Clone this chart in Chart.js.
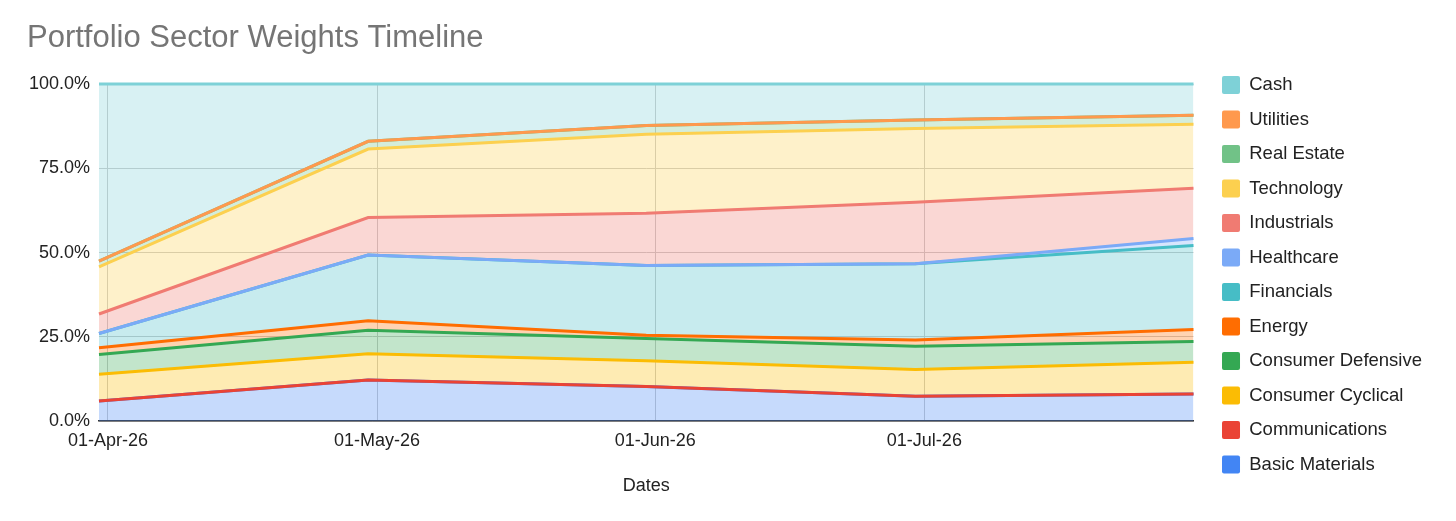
<!DOCTYPE html>
<html>
<head>
<meta charset="utf-8">
<title>Portfolio Sector Weights Timeline</title>
<script src="https://cdn.jsdelivr.net/npm/chart.js@4.4.1/dist/chart.umd.min.js"></script>
<style>
    html, body { margin: 0; padding: 0; background: #fff; }
    #wrap { width: 1456px; height: 521px; position: relative; }
</style>
</head>
<body>
<div id="wrap"><canvas id="sectorChart"></canvas></div>
<script>
// Month-end snapshot dates and the axis ticks (first of each month)
const dates = ['2026-03-31', '2026-04-30', '2026-05-31', '2026-06-30', '2026-07-31'];
const tickDates = ['2026-04-01', '2026-05-01', '2026-06-01', '2026-07-01'];
const tickLabels = ['01-Apr-26', '01-May-26', '01-Jun-26', '01-Jul-26'];
const yTicks = [0, 25, 50, 75, 100];

// Sector weights in % (stacked bottom to top)
const basicMaterials    = [6.0, 12.2, 10.3, 7.4, 8.1];
const communications    = [0, 0, 0, 0, 0];
const consumerCyclical  = [7.9, 7.8, 7.6, 7.9, 9.4];
const consumerDefensive = [5.9, 7.0, 6.6, 6.9, 6.1];
const energy            = [2.0, 2.8, 1.0, 1.9, 3.6];
const financials        = [4.2, 19.5, 20.7, 22.6, 24.9];
const healthcare        = [0, 0, 0, 0, 2.1];
const industrials       = [5.8, 11.1, 15.5, 18.2, 14.9];
const technology        = [14.0, 20.3, 23.4, 21.9, 19.0];
const realEstate        = [1.7, 2.3, 2.6, 2.5, 2.6];
const utilities         = [0, 0, 0, 0, 0];
const cash              = [52.5, 17.0, 12.3, 10.7, 9.3];

const sectors = [
    ['Basic Materials', basicMaterials, '#4285F4'],
    ['Communications', communications, '#EA4335'],
    ['Consumer Cyclical', consumerCyclical, '#FBBC04'],
    ['Consumer Defensive', consumerDefensive, '#34A853'],
    ['Energy', energy, '#FF6D01'],
    ['Financials', financials, '#46BDC6'],
    ['Healthcare', healthcare, '#7BAAF7'],
    ['Industrials', industrials, '#F07B72'],
    ['Technology', technology, '#FCD04F'],
    ['Real Estate', realEstate, '#71C287'],
    ['Utilities', utilities, '#FF994D'],
    ['Cash', cash, '#7ED1D7']
];

// days relative to 01-Apr-26, so the x axis is a plain linear scale
const DAY = 86400000;
const origin = Date.parse('2026-04-01');
const toDay = d => Math.round((Date.parse(d) - origin) / DAY);
const dayX = dates.map(toDay);
const tickX = tickDates.map(toDay);

function withAlpha(hex, a) {
    const n = parseInt(hex.slice(1), 16);
    return 'rgba(' + (n >> 16) + ',' + ((n >> 8) & 255) + ',' + (n & 255) + ',' + a + ')';
}

const datasets = sectors.map(([name, values, color], i) => ({
    label: name,
    data: values.map((v, j) => ({ x: dayX[j], y: v })),
    borderColor: color,
    backgroundColor: withAlpha(color, 0.3),
    borderWidth: 3,
    pointRadius: 0,
    tension: 0,
    fill: i === 0 ? 'origin' : '-1'
}));

// Fills go first (filler drawTime), then lines bottom-to-top so upper series sit on top
const stackOrderLines = {
    id: 'stackOrderLines',
    beforeDatasetDraw: () => false,
    afterDatasetsDraw(chart) {
        chart.getSortedVisibleDatasetMetas().forEach(meta => meta.controller.draw());
    }
};

const FONT = '"Liberation Sans", Arial, sans-serif';
const tickFont = { family: FONT, size: 18 };

const ctx = document.getElementById('sectorChart');
new Chart(ctx, {
    type: 'line',
    data: { datasets },
    options: {
        responsive: true,
        maintainAspectRatio: false,
        animation: false,
        layout: { padding: { left: 27, right: 24, top: 0, bottom: 24 } },
        scales: {
            x: {
                type: 'linear',
                min: dayX[0],
                max: dayX[dayX.length - 1],
                afterBuildTicks: scale => { scale.ticks = tickX.map(v => ({ value: v })); },
                ticks: {
                    font: tickFont,
                    color: '#222',
                    padding: 9,
                    maxRotation: 0,
                    callback: v => tickLabels[tickX.indexOf(v)] || ''
                },
                grid: { color: '#cccccc', drawTicks: false },
                border: { color: '#333', width: 1.5 },
                title: {
                    display: true,
                    text: 'Dates',
                    font: tickFont,
                    color: '#222',
                    padding: { top: 14.6, bottom: 0 }
                }
            },
            y: {
                stacked: true,
                min: 0,
                max: 100,
                afterBuildTicks: scale => { scale.ticks = yTicks.map(v => ({ value: v })); },
                afterFit: scale => { scale.width = 72; },
                ticks: {
                    font: tickFont,
                    color: '#222',
                    padding: 9,
                    callback: v => v.toFixed(1) + '%'
                },
                grid: { color: '#cccccc', drawTicks: false },
                border: { display: false }
            },
            // empty spacer so the legend sits a little away from the plot
            gap: {
                position: 'right',
                display: true,
                ticks: { display: false },
                grid: { display: false },
                border: { display: false },
                afterFit: scale => { scale.width = 12.5; }
            }
        },
        plugins: {
            filler: { drawTime: 'beforeDatasetsDraw' },
            title: {
                display: true,
                text: 'Portfolio Sector Weights Timeline',
                align: 'start',
                color: '#757575',
                font: { family: FONT, size: 31, weight: 'normal' },
                padding: { top: 20, bottom: 26.8 }
            },
            legend: {
                position: 'right',
                align: 'start',
                reverse: true,
                title: { display: true, text: ' ', font: { size: 1 }, padding: { top: 58.5, bottom: 0 } },
                labels: {
                    boxWidth: 18,
                    boxHeight: 18,
                    padding: 16,
                    color: '#222',
                    font: { family: FONT, size: 18.5 },
                    generateLabels: chart => chart.data.datasets.map((ds, i) => ({
                        text: ds.label,
                        fillStyle: ds.borderColor,
                        strokeStyle: ds.borderColor,
                        fontColor: '#222',
                        lineWidth: 0,
                        hidden: false,
                        datasetIndex: i,
                        borderRadius: 2
                    }))
                }
            },
            tooltip: { enabled: false }
        }
    },
    plugins: [stackOrderLines]
});
</script>
</body>
</html>
